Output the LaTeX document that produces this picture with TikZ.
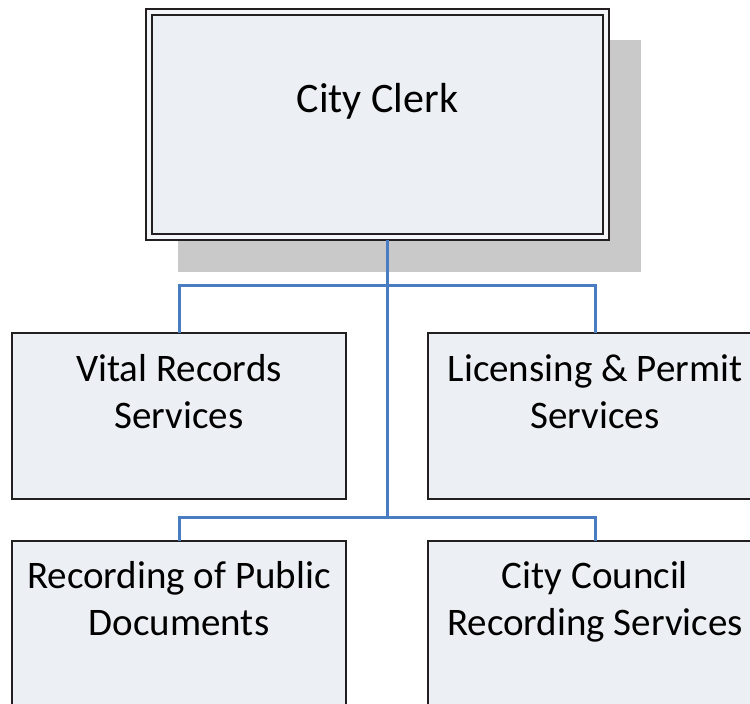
\documentclass[tikz,border=0pt]{standalone}
\usepackage{fontspec}
\setmainfont{Carlito}
\usetikzlibrary{positioning}

\definecolor{edge}{HTML}{231F20}
\definecolor{boxfill}{HTML}{ECEFF4}
\definecolor{ringfill}{HTML}{F3F5F8}
\definecolor{shadowgray}{HTML}{C9C9CA}
\definecolor{link}{HTML}{4A7CC2}

\tikzset{
  unitbox/.style={draw=edge, line width=2.4pt, fill=boxfill, rectangle,
    inner sep=0pt, outer sep=0pt, minimum width=334pt, minimum height=166pt},
  headbox/.style={draw=edge, line width=2.2pt, double=ringfill, double distance=3.8pt,
    fill=boxfill, rectangle, inner sep=0pt, outer sep=0pt,
    minimum width=457pt, minimum height=225pt},
  label/.style={font=\fontsize{39}{47}\selectfont, align=center, inner sep=0pt, text=black},
  headlabel/.style={label, font=\fontsize{42}{50}\selectfont},
  conn/.style={draw=link, line width=3pt},
}

\begin{document}
\begin{tikzpicture}[x=1pt, y=-1pt]
  \useasboundingbox (0,0) rectangle (750,704);
  \begin{scope}
    \clip (0,0) rectangle (750,704);

    % drop shadow behind the head box
    \fill[shadowgray] (178,40) rectangle (641,272);

    % head box
    \node[headbox] (clerk) at (377.5,124.5) {};
    \node[headlabel, anchor=base] (clerk-t) at (377.5,112) {City Clerk};

    % bus points of the connectors
    \coordinate (stem) at (387,240);
    \coordinate (bus1) at (387,285.5);
    \coordinate (bus2) at (387,517);

    % units
    \node[unitbox] (vital) at (179,416) {};
    \node[unitbox] (licensing) at (595,416) {};
    \node[unitbox] (recording) at (179,624) {};
    \node[unitbox] (council) at (595,624) {};

    % captions (anchored on the baseline of their last line)
    \node[label, anchor=base] (vital-t) at (179,428) {Vital Records\\Services};
    \node[label, anchor=base] (licensing-t) at (595,428) {Licensing \& Permit\\Services};
    \node[label, anchor=base] (recording-t) at (179,635) {Recording of Public\\Documents};
    \node[label, anchor=base] (council-t) at (595,635) {City Council\\Recording Services};

    % connectors
    \draw[conn] (stem) -- (bus2);
    \draw[conn] (vital.north) |- (bus1) -| (licensing.north);
    \draw[conn] (recording.north) |- (bus2) -| (council.north);
  \end{scope}
\end{tikzpicture}
\end{document}
